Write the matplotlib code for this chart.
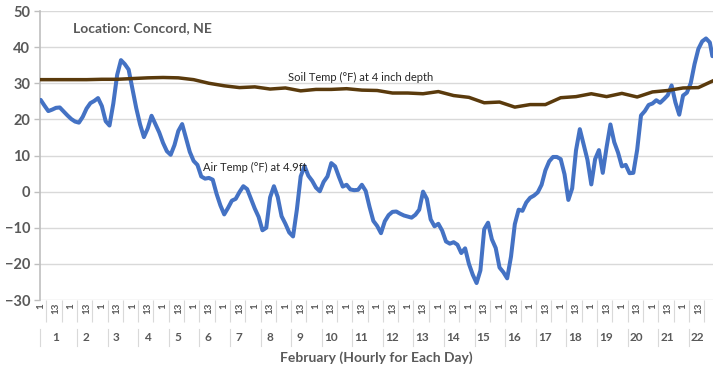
import numpy as np
import matplotlib
matplotlib.use("Agg")
import matplotlib.pyplot as plt
import matplotlib.transforms as mtransforms

plt.rcParams['font.family'] = ['Lato', 'DejaVu Sans']

# air temperature (F) read every 3 hours, 8 values per day, plus the last hour
air_temp = [
    25.4, 23.8, 22.3, 22.7, 23.2, 23.3, 22.2, 21.1,      # day 1
    20.1, 19.4, 19.1, 20.7, 23.0, 24.5, 25.1, 25.9,      # day 2
    23.7, 19.5, 18.3, 24.4, 32.3, 36.4, 35.3, 33.8,      # day 3
    28.4, 23.1, 18.6, 15.1, 17.5, 21.0, 18.7, 16.4,      # day 4
    13.5, 11.2, 10.2, 12.9, 16.8, 18.7, 14.8, 11.0,      # day 5
    8.5, 7.4, 4.2, 3.6, 3.8, 3.3, -0.6, -3.8,            # day 6
    -6.3, -4.5, -2.5, -2.0, -0.1, 1.5, 0.7, -2.0,        # day 7
    -4.7, -7.0, -10.7, -10.0, -1.6, 1.5, -1.5, -6.8,     # day 8
    -8.9, -11.3, -12.4, -5.0, 4.2, 7.1, 4.4, 3.0,        # day 9
    1.1, 0.1, 2.7, 4.2, 7.9, 7.0, 4.1, 1.4,              # day 10
    1.9, 0.6, 0.4, 0.5, 1.9, 0.2, -4.2, -8.1,            # day 11
    -9.5, -11.5, -8.2, -6.5, -5.6, -5.5, -6.1, -6.6,     # day 12
    -6.9, -7.2, -6.4, -5.0, 0.0, -2.0, -7.7, -9.6,       # day 13
    -8.9, -10.8, -13.8, -14.4, -14.0, -14.7, -17.0, -15.7,  # day 14
    -20.0, -23.0, -25.3, -21.8, -10.4, -8.6, -13.2, -15.6,  # day 15
    -21.0, -22.3, -24.0, -18.0, -9.0, -5.0, -5.3, -3.0,  # day 16
    -1.7, -1.1, -0.2, 1.9, 5.9, 8.4, 9.6, 9.6,           # day 17
    9.0, 4.8, -2.3, 0.9, 11.4, 17.3, 13.0, 8.8,          # day 18
    2.0, 9.0, 11.5, 5.2, 12.3, 18.6, 13.7, 10.8,         # day 19
    7.0, 7.4, 5.1, 5.2, 11.6, 21.1, 22.3, 24.0,          # day 20
    24.4, 25.3, 24.6, 25.6, 26.7, 29.4, 24.7, 21.3,      # day 21
    26.6, 27.4, 30.0, 35.3, 39.5, 41.6, 42.4, 41.3,      # day 22
    37.5,
]

# soil temperature (F) read every 12 hours, plus the last hour
soil_temp = [
    31.0, 31.0, 31.0, 31.0, 31.1, 31.1, 31.3, 31.5, 31.6, 31.5,
    31.0, 30.0, 29.3, 28.8, 29.0, 28.4, 28.7, 27.9, 28.3, 28.3,
    28.5, 28.1, 28.0, 27.3, 27.3, 27.1, 27.7, 26.6, 26.1, 24.6,
    24.8, 23.4, 24.1, 24.1, 26.0, 26.3, 27.1, 26.3, 27.2, 26.2,
    27.6, 28.0, 28.7, 28.8,
    30.6,
]

n_days = 22
hours_per_day = 24
n_hours = n_days * hours_per_day
hour_labels = ["1", "13"]
day_labels = [str(d) for d in range(1, n_days + 1)]

air_x = np.append(np.arange(0, n_hours, 3), n_hours - 1)
soil_x = np.append(np.arange(0, n_hours, 12), n_hours - 1)

text_gray = "#595959"
grid_gray = "#d9d9d9"

fig = plt.figure(figsize=(7.2, 3.8), dpi=100)
ax = fig.add_axes([0.0556, 0.2105, 0.9347, 0.7605])

ax.plot(air_x, air_temp, color="#4472C4", linewidth=2.9, solid_capstyle="round",
        solid_joinstyle="round", zorder=3)
ax.plot(soil_x, soil_temp, color="#5a3a0c", linewidth=2.5, solid_joinstyle="round", zorder=4)

ax.set_xlim(-0.5, n_hours - 0.5)
ax.set_ylim(-30, 50)
ax.set_yticks(np.arange(-30, 51, 10))
ax.yaxis.grid(True, color=grid_gray, linewidth=1)
ax.set_axisbelow(True)

for s in ["top", "right", "bottom"]:
    ax.spines[s].set_visible(False)
ax.spines["left"].set_color("#bfbfbf")
ax.spines["left"].set_linewidth(1.2)

ax.tick_params(axis="y", colors="#bfbfbf", length=4, width=1, labelcolor=text_gray,
               labelsize=10.5, pad=3)
for lab in ax.get_yticklabels():
    lab.set_fontweight("bold")

# hourly category labels
ticks = np.arange(0, n_hours, 12)
ax.set_xticks(ticks)
ax.set_xticklabels(hour_labels * n_days, rotation=90, fontsize=7, color=text_gray,
                   fontweight="bold")
ax.tick_params(axis="x", which="major", length=0, pad=2)
ax.set_xticks(ticks + 4.5, minor=True)
ax.tick_params(axis="x", which="minor", length=16, width=0.8, color=grid_gray)

# day level of the category axis
trans = mtransforms.blended_transform_factory(ax.transData, ax.transAxes)
for d in range(n_days):
    ax.text(d * hours_per_day + 11.5, -0.131, day_labels[d], transform=trans,
            ha="center", va="center", fontsize=8.5, color=text_gray, fontweight="bold")
    ax.axvline(d * hours_per_day + 4.5 if d else -0.5, ymin=-0.16, ymax=-0.1,
               color=grid_gray, linewidth=0.8, clip_on=False)

ax.text(0.5, -0.2, "February (Hourly for Each Day)", transform=ax.transAxes,
        ha="center", va="center", fontsize=10, color=text_gray, fontweight="bold")

ax.text(0.049, 0.941, "Location: Concord, NE", transform=ax.transAxes,
        ha="left", va="center", fontsize=10, color=text_gray, fontweight="bold")
ax.text(0.369, 0.771, "Soil Temp (°F) at 4 inch depth", transform=ax.transAxes,
        ha="left", va="center", fontsize=8, color="#262626")
ax.text(0.242, 0.46, "Air Temp (°F) at 4.9ft", transform=ax.transAxes,
        ha="left", va="center", fontsize=8, color="#262626")

fig.savefig("out.png", dpi=100)
